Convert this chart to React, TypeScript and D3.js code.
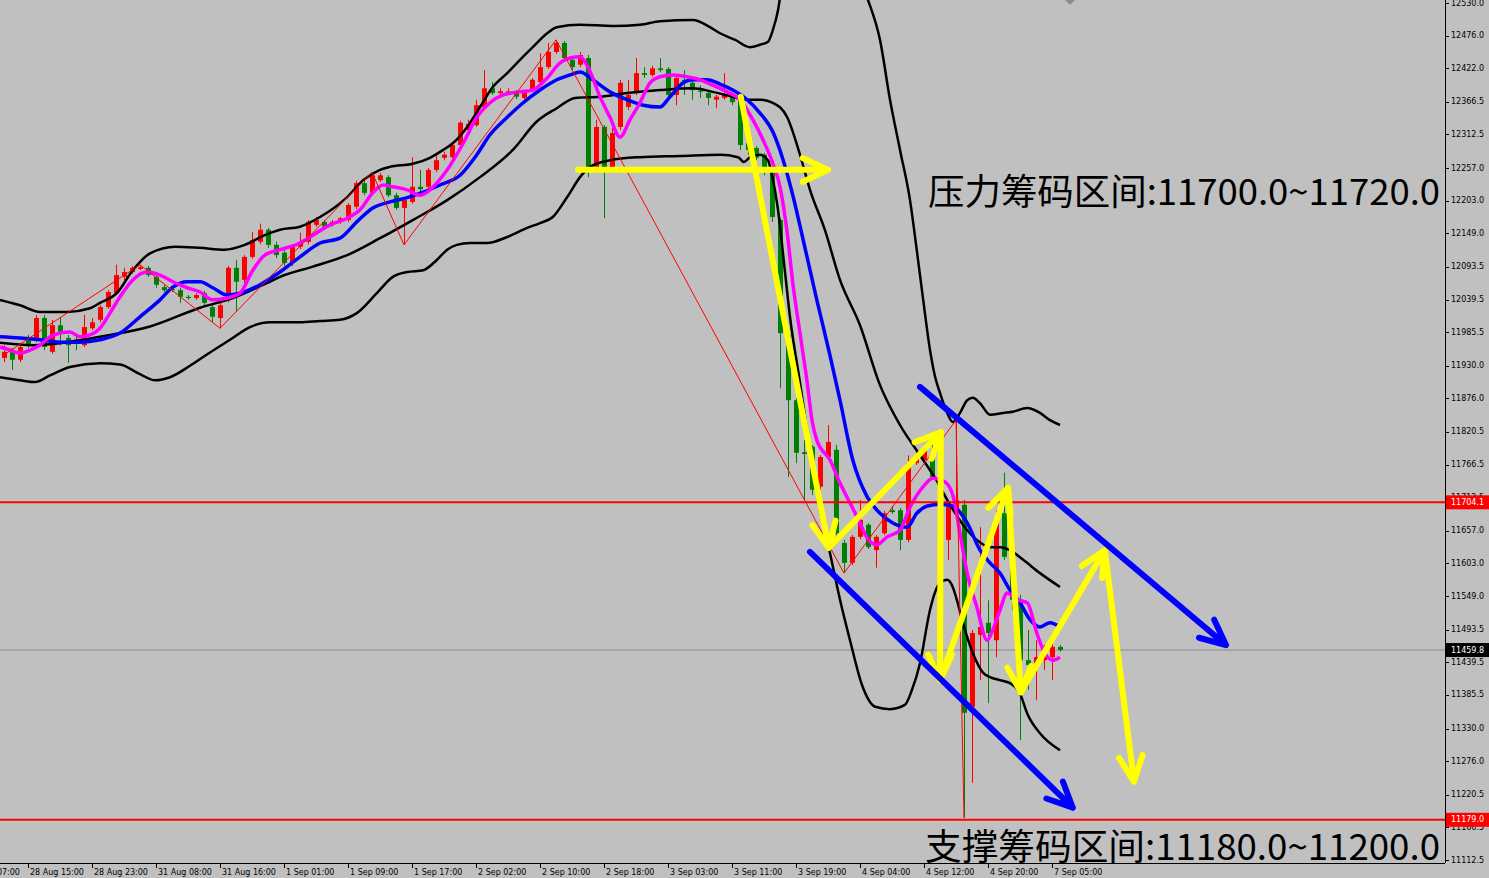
import React from 'react';
import * as d3 from 'd3';

// ---------- axis data ----------
const timeLabels = [
  '28 Aug 07:00', '28 Aug 15:00', '28 Aug 23:00', '31 Aug 08:00', '31 Aug 16:00',
  '1 Sep 01:00', '1 Sep 09:00', '1 Sep 17:00', '2 Sep 02:00', '2 Sep 10:00',
  '2 Sep 18:00', '3 Sep 03:00', '3 Sep 11:00', '3 Sep 19:00', '4 Sep 04:00',
  '4 Sep 12:00', '4 Sep 20:00', '7 Sep 05:00',
];
const timeLabelFirstBar = -5;
const timeLabelStep = 8;

const priceTicks = [
  12530.0, 12476.0, 12422.0, 12366.5, 12312.5, 12257.0, 12203.0, 12149.0, 12093.5,
  12039.5, 11985.5, 11930.0, 11876.0, 11820.5, 11766.5, 11712.5, 11657.0, 11603.0,
  11549.0, 11493.5, 11439.5, 11385.5, 11330.0, 11276.0, 11220.5, 11166.5, 11112.5,
];

// ---------- candles (H1) ----------
const opens = [
  11943, 11953, 11940, 11973, 11973, 12009, 11953, 11997, 11976, 11973,
  11964, 11992, 12006, 12027, 12050, 12077, 12085, 12090, 12092, 12077,
  12060, 12057, 12055, 12044, 12042, 12050, 12027, 12009, 12039, 12092,
  12072, 12110, 12135, 12155, 12130, 12117, 12100, 12127, 12135, 12163,
  12168, 12163, 12168, 12171, 12193, 12232, 12216, 12237, 12242, 12212,
  12191, 12201, 12226, 12226, 12254, 12274, 12275, 12295, 12320, 12328,
  12358, 12389, 12381, 12383, 12383, 12373, 12386, 12399, 12424, 12449,
  12464, 12436, 12428, 12439, 12254, 12325, 12254, 12325, 12358, 12381,
  12414, 12411, 12422, 12421, 12378, 12403, 12398, 12385, 12381, 12370,
  12373, 12375, 12370, 12298, 12290, 12279, 12250, 12171, 11981, 11873,
  11787, 11796, 11730, 11779, 11791, 11637, 11604, 11647, 11667, 11625,
  11653, 11691, 11691, 11642, 11769, 11774, 11782, 11746, 11642, 11691,
  11700, 11366, 11485, 11505, 11476, 11686, 11614, 11543, 11443, 11438,
  11443, 11448, 11465,
];
const highs = [
  11964, 11959, 11968, 11981, 12014, 12014, 12006, 12009, 11981, 11981,
  12014, 12009, 12030, 12055, 12097, 12092, 12095, 12097, 12095, 12080,
  12064, 12062, 12059, 12047, 12050, 12054, 12030, 12034, 12095, 12105,
  12113, 12151, 12165, 12158, 12135, 12122, 12131, 12150, 12171, 12176,
  12171, 12171, 12176, 12199, 12236, 12237, 12250, 12249, 12245, 12216,
  12208, 12275, 12254, 12257, 12282, 12284, 12298, 12335, 12337, 12370,
  12419, 12399, 12389, 12389, 12386, 12386, 12406, 12447, 12464, 12469,
  12467, 12439, 12449, 12444, 12337, 12328, 12325, 12403, 12403, 12439,
  12424, 12426, 12439, 12424, 12409, 12419, 12401, 12394, 12385, 12378,
  12414, 12378, 12373, 12303, 12293, 12282, 12254, 12174, 11984, 11877,
  11807, 11799, 11782, 11832, 11799, 11642, 11650, 11708, 11670, 11650,
  11690, 11698, 11695, 11782, 11791, 11799, 11807, 11766, 11708, 11840,
  11708, 11493, 11663, 11542, 11691, 11753, 11625, 11551, 11493, 11476,
  11468, 11476, 11468,
];
const lows = [
  11936, 11923, 11936, 11959, 11969, 11956, 11950, 11964, 11935, 11956,
  11961, 11989, 12002, 12024, 12047, 12072, 12082, 12088, 12077, 12059,
  12052, 12052, 12034, 12039, 12039, 12030, 12002, 11992, 12035, 12019,
  12067, 12107, 12131, 12125, 12108, 12095, 12095, 12123, 12131, 12160,
  12156, 12160, 12165, 12168, 12189, 12212, 12212, 12234, 12209, 12188,
  12130, 12198, 12217, 12222, 12250, 12270, 12272, 12292, 12315, 12325,
  12355, 12378, 12378, 12380, 12371, 12370, 12383, 12396, 12421, 12446,
  12436, 12419, 12424, 12242, 12250, 12174, 12250, 12320, 12353, 12378,
  12406, 12408, 12416, 12375, 12361, 12378, 12370, 12373, 12361, 12356,
  12370, 12361, 12287, 12279, 12270, 12245, 12168, 11893, 11746, 11769,
  11708, 11716, 11725, 11776, 11650, 11587, 11600, 11643, 11627, 11596,
  11650, 11685, 11625, 11638, 11766, 11771, 11741, 11634, 11609, 11683,
  11182, 11240, 11410, 11372, 11448, 11609, 11526, 11311, 11394, 11377,
  11427, 11410, 11457,
];
const closes = [
  11953, 11940, 11961, 11964, 12009, 11961, 11997, 11986, 11964, 11968,
  11994, 12002, 12027, 12052, 12080, 12085, 12092, 12093, 12080, 12064,
  12055, 12055, 12044, 12042, 12047, 12034, 12011, 12030, 12092, 12069,
  12110, 12138, 12155, 12130, 12113, 12100, 12127, 12135, 12168, 12171,
  12160, 12168, 12174, 12196, 12232, 12216, 12245, 12245, 12212, 12191,
  12204, 12226, 12222, 12254, 12270, 12279, 12295, 12332, 12330, 12361,
  12389, 12381, 12384, 12384, 12375, 12383, 12403, 12424, 12449, 12464,
  12439, 12424, 12444, 12254, 12325, 12254, 12315, 12398, 12378, 12414,
  12411, 12422, 12419, 12378, 12406, 12399, 12386, 12383, 12373, 12375,
  12378, 12366, 12295, 12287, 12274, 12254, 12176, 11984, 11873, 11786,
  11784, 11725, 11779, 11804, 11653, 11604, 11647, 11675, 11630, 11647,
  11686, 11688, 11642, 11769, 11779, 11791, 11746, 11642, 11700, 11708,
  11356, 11488, 11498, 11488, 11670, 11614, 11543, 11443, 11435, 11448,
  11460, 11465, 11459.8,
];

// ---------- indicator lines: [bar, price] ----------
const maFast: [number, number][] = [
  [-0.5, 11961], [0.75, 11956], [2, 11951], [3.25, 11956], [4.5, 11964], [5.75, 11978],
  [7, 11984], [8.25, 11986], [9.5, 11978], [10.75, 11981], [12, 11992], [13.25, 12017],
  [14.5, 12044], [16.1, 12072], [17.9, 12085], [19.5, 12080], [21.1, 12069], [22.9, 12059],
  [24.5, 12052], [26.1, 12039], [27.9, 12042], [29.5, 12050], [31.1, 12088], [32.6, 12113],
  [34.5, 12122], [37, 12133], [38.6, 12146], [40.75, 12163], [42.9, 12174], [44.5, 12188],
  [46.1, 12216], [47.4, 12229], [48.6, 12226], [50.4, 12221], [52, 12212], [53.25, 12221],
  [55.4, 12254], [57.4, 12298], [59.1, 12341], [60.75, 12365], [62.4, 12378], [64.5, 12383],
  [66.1, 12386], [67.9, 12406], [69.5, 12431], [70.75, 12439], [72, 12441], [73, 12424],
  [74.5, 12375], [75.75, 12341], [77, 12308], [78.25, 12337], [79.5, 12365], [80.75, 12398],
  [82, 12408], [83.6, 12411], [85.4, 12408], [87, 12403], [88.6, 12394], [90.4, 12383],
  [92, 12370], [93.6, 12337], [94.9, 12303], [96.1, 12265], [97, 12226], [97.9, 12150],
  [98.6, 12067], [99.5, 11984], [100.4, 11902], [101, 11840], [101.6, 11807], [103.25, 11774],
  [104.5, 11736], [105.75, 11703], [107, 11670], [107.9, 11645], [109.1, 11634], [110.4, 11647],
  [112, 11658], [113.25, 11696], [114.9, 11730], [116.1, 11744], [117.6, 11738], [118.6, 11716],
  [119.5, 11653], [120.4, 11587], [121.6, 11531], [122.9, 11476], [123.6, 11493], [124.5, 11526],
  [125.4, 11554], [126.6, 11543], [127.9, 11538], [129.1, 11488], [129.9, 11460], [131.1, 11443],
  [132, 11448],
];
const maSlow: [number, number][] = [
  [-0.5, 11978], [2, 11976], [4.5, 11973], [7, 11969], [9.5, 11969], [12, 11973],
  [14.5, 11984], [17, 12011], [19.5, 12039], [21.1, 12060], [22.9, 12069], [24.5, 12069],
  [26.1, 12059], [27.9, 12047], [29.5, 12050], [32, 12064], [34.5, 12085], [37, 12110],
  [39.5, 12133], [42, 12141], [44.1, 12168], [46.1, 12191], [48.25, 12201], [50.4, 12208],
  [52.4, 12217], [54.5, 12229], [57, 12245], [59.1, 12279], [60.75, 12312], [62.9, 12341],
  [64.9, 12365], [67, 12386], [69.1, 12403], [70.75, 12411], [72, 12416], [73.6, 12403],
  [75.75, 12383], [77.9, 12370], [79.9, 12361], [82, 12358], [83.25, 12375], [84.9, 12398],
  [86.1, 12403], [87.9, 12403], [89.5, 12396], [91.1, 12386], [92.9, 12370], [94.5, 12348],
  [96.1, 12317], [97.4, 12270], [98.6, 12212], [99.9, 12138], [101.6, 12039], [103.25, 11947],
  [104.5, 11873], [106.1, 11774], [107.9, 11713], [109.5, 11686], [111.1, 11670], [112.9, 11663],
  [114.1, 11686], [115.4, 11698], [117, 11701], [118.6, 11698], [120.4, 11670], [122, 11625],
  [123.25, 11604], [124.5, 11587], [125.75, 11559], [127, 11538], [128.25, 11510], [129.5, 11498],
  [130.75, 11505], [132, 11498],
];
const bandUpper: [number, number][] = [
  [-0.5, 12039], [2, 12030], [4.5, 12019], [7.9, 12019], [10.75, 12025], [12, 12034],
  [14.1, 12050], [16.1, 12088], [18.25, 12116], [21.4, 12127], [24.5, 12125], [27.6, 12122],
  [30.1, 12130], [32.6, 12146], [34.5, 12155], [37, 12160], [39.5, 12176], [42.9, 12209],
  [44.9, 12237], [47, 12254], [48.25, 12259], [51.1, 12264], [53.25, 12274], [54.9, 12287],
  [56.1, 12298], [57.9, 12325], [59.5, 12358], [61.1, 12391], [62.9, 12414], [64.5, 12436],
  [66.1, 12457], [67.9, 12480], [69.1, 12490], [72, 12494], [76.1, 12492], [79.5, 12494],
  [82, 12500], [86.1, 12502], [88.25, 12490], [89.5, 12480], [91.4, 12469], [93.25, 12457],
  [94.5, 12461], [95.5, 12466], [96.1, 12485], [96.75, 12518], [97.5, 12585], [98.9, 12642],
  [100.75, 12654], [102.6, 12651], [104.5, 12609], [106.4, 12585], [108, 12535], [109.5, 12469],
  [110.75, 12370], [112, 12287], [113.25, 12204], [114.1, 12121], [114.9, 12039], [115.75, 11956],
  [116.4, 11911], [117, 11885], [117.9, 11852], [118.6, 11837], [119.5, 11852], [120.4, 11873],
  [121.1, 11877], [122, 11868], [123.25, 11849], [124.9, 11852], [126.1, 11854], [127.9, 11860],
  [129.5, 11852], [130.75, 11840], [132, 11832],
];
const bandMiddle: [number, number][] = [
  [-0.5, 11968], [3.6, 11964], [7.9, 11969], [12, 11978], [18.25, 11995], [24.5, 12026],
  [28.6, 12042], [32.9, 12067], [34.5, 12077], [38.6, 12094], [42.9, 12113], [47, 12141],
  [51.1, 12171], [55.4, 12204], [59.5, 12242], [63.6, 12287], [66.6, 12334], [69.1, 12356],
  [71.4, 12373], [74.5, 12375], [77.9, 12381], [82, 12386], [86.1, 12389], [88.6, 12383],
  [91.1, 12375], [92.6, 12370], [94.5, 12370], [96.1, 12365], [97.9, 12341], [99.5, 12279],
  [100.75, 12221], [102.6, 12155], [104.5, 12072], [107, 11997], [109.5, 11898], [112, 11832],
  [114.5, 11782], [116.4, 11744], [118.25, 11700], [120.4, 11658], [121.6, 11642], [123.25, 11630],
  [124.5, 11630], [125.75, 11625], [127.4, 11609], [129.5, 11587], [132, 11564],
];
const bandLower: [number, number][] = [
  [-0.5, 11911], [2, 11906], [3.9, 11903], [5.75, 11914], [8.25, 11928], [12, 11934],
  [14.5, 11932], [17, 11916], [18.9, 11906], [20.75, 11911], [23.25, 11930], [25.75, 11952],
  [28.25, 11973], [30.75, 11994], [33.25, 12002], [37, 12002], [39.5, 12004], [42, 12006],
  [44.1, 12017], [46.6, 12050], [48.6, 12077], [50.4, 12085], [52.4, 12088], [54.1, 12105],
  [55.4, 12122], [56.6, 12130], [58.25, 12133], [60.4, 12133], [62.9, 12143], [65.4, 12158],
  [67, 12166], [68.6, 12176], [70.4, 12209], [72, 12242], [73.25, 12259], [75.75, 12270],
  [79.5, 12275], [84.5, 12277], [89.5, 12279], [91.75, 12275], [92.5, 12267], [93.25, 12275],
  [94.5, 12279], [95.5, 12270], [96, 12245], [96.75, 12188], [97.6, 12088], [98.25, 12011],
  [99.5, 11902], [100.75, 11791], [102, 11691], [103.25, 11620], [104.5, 11543], [105.75, 11476],
  [107.25, 11402], [108.9, 11366], [110.75, 11362], [112.6, 11369], [113.5, 11394], [114.5, 11438],
  [115.75, 11526], [116.4, 11556], [117, 11571], [117.9, 11576], [118.5, 11567], [119.1, 11543],
  [119.75, 11510], [121.1, 11455], [122.4, 11422], [123.25, 11415], [124.5, 11410], [125.75, 11405],
  [127, 11388], [127.9, 11355], [129.5, 11322], [132, 11294],
];
const zigzag: [number, number][] = [
  [0, 11948], [17, 12097], [27, 11992], [46, 12250], [50, 12130], [69, 12469],
  [105, 11587], [119, 11840], [120, 11182],
];

// ---------- levels & drawn objects ----------
const resistanceLevel = 11704.1;
const supportLevel = 11179.0;
const lastPrice = 11459.8;
const yellowArrows: [number, number, number, number][] = [
  [71.75, 12254, 103, 12254],
  [92.1, 12375, 103.1, 11629],
  [103.1, 11629, 117.1, 11820],
  [117.1, 11820, 117, 11410],
  [117, 11410, 125.5, 11728],
  [125.5, 11728, 127.1, 11390],
  [127.1, 11390, 137.6, 11625],
  [137.6, 11625, 141.25, 11242],
];
const blueArrows: [number, number, number, number][] = [
  [100.75, 11622, 133.6, 11199],
  [114.5, 11895, 152.75, 11468],
];
const resistanceText = '压力筹码区间:11700.0~11720.0';
const supportText = '支撑筹码区间:11180.0~11200.0';

const W = 1489;
const H = 878;
const PLOT_R = 1445;
const PLOT_B = 863;
const BG = '#C0C0C0';
const UP = '#FF0000';
const DOWN = '#008000';

function Arrow({ x1, y1, x2, y2, color, width }: any) {
  const ang = Math.atan2(y2 - y1, x2 - x1);
  const len = 28;
  const a = (25 * Math.PI) / 180;
  const w1 = [x2 - len * Math.cos(ang - a), y2 - len * Math.sin(ang - a)];
  const w2 = [x2 - len * Math.cos(ang + a), y2 - len * Math.sin(ang + a)];
  const d = `M${x1},${y1}L${x2},${y2}M${w1[0]},${w1[1]}L${x2},${y2}L${w2[0]},${w2[1]}`;
  return <path d={d} stroke={color} strokeWidth={width} fill="none" strokeLinejoin="round" strokeLinecap="round" />;
}

export default function App() {
  const x = d3.scaleLinear().domain([0, 132]).range([4, 1060]);
  const y = d3.scaleLinear().domain([12530, 11112.5]).range([3, 860]);
  const smooth = d3.line<[number, number]>().x(d => x(d[0])).y(d => y(d[1])).curve(d3.curveMonotoneX);
  const straight = d3.line<[number, number]>().x(d => x(d[0])).y(d => y(d[1]));
  const bodyW = 5;

  const candles = opens.map((o, i) => {
    const c = closes[i];
    const up = c >= o;
    const col = up ? UP : DOWN;
    const cx = Math.round(x(i)) + 0.5;
    const yt = y(Math.max(o, c));
    const yb = y(Math.min(o, c));
    return (
      <g key={i}>
        <line x1={cx} x2={cx} y1={y(highs[i])} y2={y(lows[i])} stroke={col} strokeWidth={1} />
        <rect x={cx - bodyW / 2} y={yt} width={bodyW} height={Math.max(1, yb - yt)} fill={col} />
      </g>
    );
  });

  const tickFont = { fontFamily: 'DejaVu Sans, sans-serif', fontSize: 8 };

  return (
    <svg width={W} height={H} style={{ position: 'absolute', left: 0, top: 0, display: 'block' }}>
      <defs>
        <clipPath id="plotClip">
          <rect x={0} y={0} width={PLOT_R} height={PLOT_B} />
        </clipPath>
      </defs>
      <rect x={0} y={0} width={W} height={H} fill={BG} />
      <g clipPath="url(#plotClip)">
        <line x1={0} x2={PLOT_R} y1={y(lastPrice)} y2={y(lastPrice)} stroke="#8a8a8a" strokeWidth={1} />
        {candles}
        <path d={smooth(bandUpper) || ''} stroke="#000" strokeWidth={2.5} fill="none" />
        <path d={smooth(bandMiddle) || ''} stroke="#000" strokeWidth={2.5} fill="none" />
        <path d={smooth(bandLower) || ''} stroke="#000" strokeWidth={2.5} fill="none" />
        <path d={smooth(maSlow) || ''} stroke="#0000FF" strokeWidth={3.5} fill="none" />
        <path d={smooth(maFast) || ''} stroke="#FF00FF" strokeWidth={3.5} fill="none" />
        <path d={straight(zigzag) || ''} stroke="#FF0000" strokeWidth={1} fill="none" />
        <line x1={0} x2={PLOT_R} y1={y(resistanceLevel)} y2={y(resistanceLevel)} stroke="#FF0000" strokeWidth={2} />
        <line x1={0} x2={PLOT_R} y1={y(supportLevel)} y2={y(supportLevel)} stroke="#FF0000" strokeWidth={2} />
        {yellowArrows.map((a, i) => (
          <Arrow key={'y' + i} x1={x(a[0])} y1={y(a[1])} x2={x(a[2])} y2={y(a[3])} color="#FFFF00" width={6} />
        ))}
        {blueArrows.map((a, i) => (
          <Arrow key={'b' + i} x1={x(a[0])} y1={y(a[1])} x2={x(a[2])} y2={y(a[3])} color="#0000FF" width={6} />
        ))}
        <polygon points="1063,-2 1070,5 1077,-2" fill="#8c8c8c" />
      </g>

      {/* axes */}
      <line x1={PLOT_R + 0.5} x2={PLOT_R + 0.5} y1={0} y2={PLOT_B} stroke="#000" strokeWidth={1} />
      <line x1={0} x2={PLOT_R} y1={PLOT_B + 0.5} y2={PLOT_B + 0.5} stroke="#000" strokeWidth={1} />
      {priceTicks.map((v, i) => (
        <g key={'pt' + i}>
          <line x1={PLOT_R} x2={PLOT_R + 4} y1={Math.round(y(v)) + 0.5} y2={Math.round(y(v)) + 0.5} stroke="#000" />
          <text x={PLOT_R + 6} y={y(v)} dominantBaseline="central" fill="#000" {...tickFont}>
            {v.toFixed(1)}
          </text>
        </g>
      ))}
      {[
        { v: resistanceLevel, bg: '#FF0000' },
        { v: supportLevel, bg: '#FF0000' },
        { v: lastPrice, bg: '#000000' },
      ].map((l, i) => (
        <g key={'lbl' + i}>
          <rect x={PLOT_R + 1} y={y(l.v) - 7} width={W - PLOT_R - 1} height={14} fill={l.bg} />
          <text x={PLOT_R + 6} y={y(l.v)} dominantBaseline="central" fill="#FFFFFF" {...tickFont}>
            {l.v.toFixed(1)}
          </text>
        </g>
      ))}
      {timeLabels.map((t, k) => {
        const bx = x(timeLabelFirstBar + k * timeLabelStep);
        return (
          <g key={'tl' + k}>
            <line x1={Math.round(bx) + 0.5} x2={Math.round(bx) + 0.5} y1={PLOT_B} y2={PLOT_B + 5} stroke="#000" />
            <text x={bx + 2} y={PLOT_B + 12} fill="#000" {...tickFont}>{t}</text>
          </g>
        );
      })}

      {/* annotations */}
      <text x={928} y={205} fontFamily="'Noto Sans CJK SC', sans-serif" fontSize={36} fill="#000" textLength={512} lengthAdjust="spacingAndGlyphs">
        {resistanceText}
      </text>
      <text x={925} y={860} fontFamily="'Noto Sans CJK SC', sans-serif" fontSize={36} fill="#000" textLength={515} lengthAdjust="spacingAndGlyphs">
        {supportText}
      </text>
    </svg>
  );
}
